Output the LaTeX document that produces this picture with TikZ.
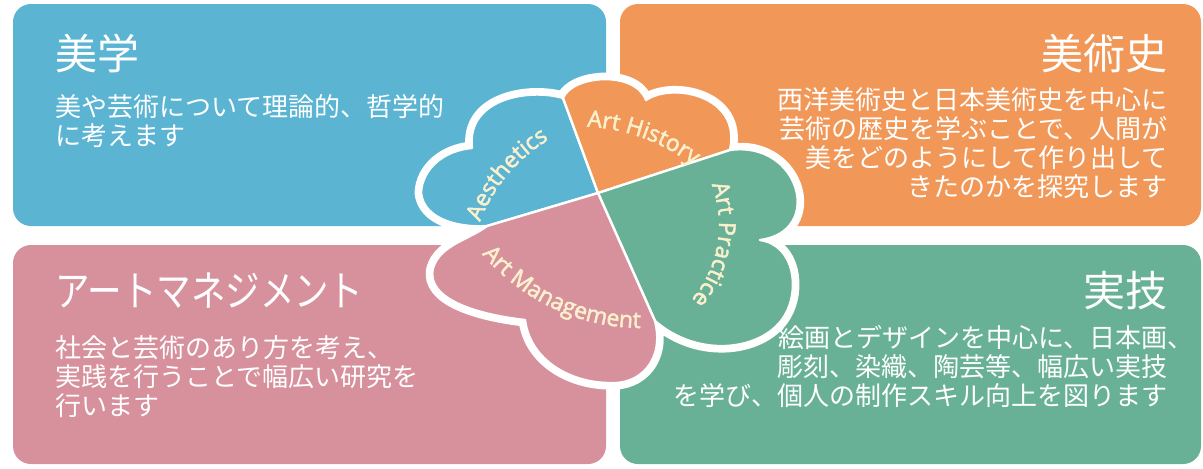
\documentclass[tikz,border=0pt]{standalone}
\usepackage{graphicx}
\usepackage{fontspec}
\newfontfamily\jpfont{Noto Sans CJK JP}
\newfontfamily\lblfont{Open Sans}[FakeBold=2.2]
\usetikzlibrary{decorations.text}
\definecolor{aesblue}{HTML}{5AB4D2}
\definecolor{historange}{HTML}{F19858}
\definecolor{practgreen}{HTML}{68B197}
\definecolor{mgmtpink}{HTML}{D7919D}
\definecolor{lblcream}{HTML}{FAF0CD}
\tikzset{
	panel/.style={rounded corners=9pt},
	heading/.style={text=white, inner sep=0pt, font=\jpfont\fontsize{21pt}{24pt}\selectfont},
	body/.style={text=white, inner sep=0pt, font=\jpfont\fontsize{13pt}{14.5pt}\selectfont},
	rim/.style={draw=white, fill=white, line width=6.5pt, line join=round},
	petal/.style={fill=#1, draw=white, line width=1.2pt, line join=round},
	arclabel/.style={decorate, decoration={text along path, text align=center, text color=lblcream,
		text={|\lblfont\fontsize{11.5pt}{13pt}\selectfont|#1}}}
}
\newcommand{\aespath}{(mid) -- (aesHist) .. controls (530,-88) and (466,-98) .. (472,-148)
	.. controls (445,-150) and (422,-168) .. (421,-193) .. controls (424,-220) and (460,-228) .. (mgmtAes) -- cycle}
\newcommand{\histpath}{(mid) -- (histPract) .. controls (742,-95) and (672,-82) .. (646,-100)
	.. controls (635,-70) and (572,-75) .. (aesHist) -- cycle}
\newcommand{\practpath}{(mid) -- (histPract) .. controls (800,-140) and (825,-232) .. (760,-240)
	.. controls (795,-245) and (800,-290) .. (785,-315) .. controls (765,-350) and (700,-360) .. (practMgmt) -- cycle}
\newcommand{\mgmtpath}{(mid) -- (practMgmt) .. controls (665,-360) and (640,-385) .. (610,-383)
	.. controls (570,-383) and (530,-360) .. (525,-320) .. controls (480,-315) and (425,-300) .. (433,-268)
	.. controls (440,-245) and (468,-240) .. (mgmtAes) -- cycle}
\begin{document}
\begin{tikzpicture}[x=0.5pt, y=0.5pt]
		\useasboundingbox (0,0) rectangle (1203,-468);

		\fill[panel, aesblue] (13,-4) rectangle (606,-226);
		\fill[panel, historange] (620,-4) rectangle (1201,-226);
		\fill[panel, mgmtpink] (13,-245) rectangle (606,-464);
		\fill[panel, practgreen] (620,-245) rectangle (1201,-464);

		\node[heading, anchor=base west] (aestitle) at (55,-69) {美学};
		\node[body, anchor=north west, align=left] (aesbody) at (55,-94) {美や芸術について理論的、哲学的\\に考えます};
		\node[heading, anchor=base east] (histtitle) at (1168,-69) {美術史};
		\node[body, anchor=north east, align=right] (histbody) at (1168,-87) {西洋美術史と日本美術史を中心に\\芸術の歴史を学ぶことで、人間が\\美をどのようにして作り出して\\きたのかを探究します};
		\node[heading, anchor=base west] (mgmttitle) at (55,-306) {\scalebox{0.82}[1]{アートマネジメント}};
		\node[body, anchor=north west, align=left] (mgmtbody) at (55,-335) {社会と芸術のあり方を考え、\\実践を行うことで幅広い研究を\\行います};
		\node[heading, anchor=base east] (practtitle) at (1168,-306) {実技};
		\node[body, anchor=north east, align=right] (practbody) at (1168,-325) {絵画とデザインを中心に、日本画\rlap{、}\\彫刻、染織、陶芸等、幅広い実技\\を学び、個人の制作スキル向上を図ります};

		\coordinate (mid) at (598,-193);
		\coordinate (aesHist) at (563,-98);
		\coordinate (histPract) at (730,-150);
		\coordinate (practMgmt) at (655,-321);
		\coordinate (mgmtAes) at (487,-226);

		\path[rim] \aespath \histpath \practpath \mgmtpath;
		\path[petal=aesblue] \aespath;
		\path[petal=historange] \histpath;
		\path[petal=practgreen] \practpath;
		\path[petal=mgmtpink] \mgmtpath;

		\path[arclabel={Aesthetics}] ([shift={(165:165)}]634,-281) arc[start angle=165, end angle=115, radius=165];
		\path[arclabel={Art History}] ([shift={(95:190)}]578,-316.5) arc[start angle=95, end angle=45, radius=190];
		\path[arclabel={Art Practice}] ([shift={(25:115)}]604,-225) arc[start angle=25, end angle=-45, radius=115];
		\path[arclabel={Art Management}] ([shift={(215:210)}]642,-118) arc[start angle=215, end angle=275, radius=210];

	\end{tikzpicture}
\end{document}
